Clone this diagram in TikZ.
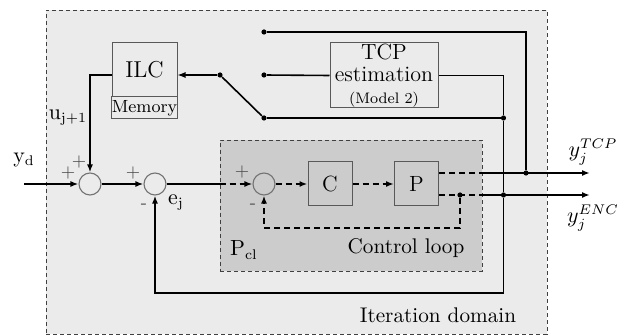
\documentclass[tikz,border=0pt]{standalone}
\usetikzlibrary{arrows.meta,calc}
\begin{document}
\begin{tikzpicture}[x=0.5pt,y=-0.5pt, font=\fontsize{10.6}{12}\selectfont,
  sig/.style={line width=0.8pt, -{Latex[length=4pt,width=3pt]}},
  ln/.style={line width=0.8pt},
  dsig/.style={sig, dash pattern=on 3pt off 2pt},
  dln/.style={ln, dash pattern=on 3pt off 2pt},
  block/.style={draw=black!65, line width=0.5pt, inner sep=0pt},
  sumc/.style={circle, draw=black!55, line width=0.55pt, minimum size=11pt, inner sep=0pt},
  dot/.style={circle, fill=black, inner sep=0pt, minimum size=2.6pt},
  sgn/.style={text=black!70, font=\fontsize{9}{10}\selectfont, inner sep=0pt},
  lbl/.style={inner sep=0pt}]
\useasboundingbox (0,0) rectangle (628,336);
% domains
\node[draw=black!75, fill=black!8, line width=0.45pt, dash pattern=on 2pt off 1.5pt,
  minimum width=250.5pt, minimum height=162pt, inner sep=0pt] (outer) at (296.5,172) {};
\node[draw=black!75, fill=black!20, line width=0.45pt, dash pattern=on 2pt off 1.5pt,
  minimum width=131pt, minimum height=65.5pt, inner sep=0pt] (inner) at (351,205.5) {};
% blocks
\node[block, minimum width=32.5pt, minimum height=27pt] (ilc) at (144.5,70) {\fontsize{11.5}{13}\selectfont ILC};
\node[block, minimum width=32.5pt, minimum height=11pt] (mem) at (144.5,108) {\fontsize{8.8}{10}\selectfont Memory};
\node[block, minimum width=54pt, minimum height=32.5pt, align=center] (tcp) at (384,75.5)
  {\fontsize{11}{11}\selectfont TCP\\[-1pt]\fontsize{11}{11}\selectfont estimation\\[-1pt]\fontsize{7.6}{9}\selectfont (Model 2)};
\node[block, minimum width=22pt, minimum height=22pt] (C) at (330,184) {\fontsize{11}{13}\selectfont C};
\node[block, minimum width=22pt, minimum height=22pt] (P) at (416.5,184) {\fontsize{11}{13}\selectfont P};
\node[sumc] (s1) at (90,184) {};
\node[sumc] (s2) at (155,184) {};
\node[sumc] (s3) at (264,184) {};
% switch and dots
\node[dot] (sw) at (220,75) {};
\node[dot] (d1) at (264,32) {};
\node[dot] (d2) at (264,75) {};
\node[dot] (d3) at (264,118) {};
\node[dot] (j1) at (526,173) {};
\node[dot] (j2) at (503.5,195) {};
\node[dot] (j3) at (503.5,118) {};
\node[dot] (j4) at (460,195) {};
\coordinate (ydin) at (24,184);
\coordinate (out1) at (590,173);
\coordinate (out2) at (590,195);
\coordinate (fb1) at (460,228);
\coordinate (fb2) at (503.5,293);
% connectors
\draw[sig] (ydin) -- (s1.west);
\draw[sig] (s1.east) -- (s2.west);
\draw[ln] (s2.east) -- (s2.east -| inner.west);
\draw[dsig] (s2.east -| inner.west) -- (s3.west);
\draw[dsig] (s3.east) -- (C.west);
\draw[dsig] (C.east) -- (P.west);
\draw[dln] (P.east |- j1) -- (inner.east |- j1);
\draw[sig] (inner.east |- j1) -- (out1);
\draw[dln] (P.east |- j2) -- (inner.east |- j2);
\draw[sig] (inner.east |- j2) -- (out2);
\draw[dsig] (j4) -- (fb1) -| (s3.south);
\draw[sig] (j2) -- (fb2) -| (s2.south);
\draw[sig, line width=0.6pt] (sw) -- (sw -| ilc.east);
\draw[sig] (sw -| ilc.west) -| (s1.north);
\draw[ln] (sw) -- (d3);
\draw[ln] (d1) -| (j1);
\draw[ln] (d2) -- (tcp.west);
\draw[ln] (tcp.east) -| (j3) -- (j2);
\draw[ln] (d3) -- (j3);
% labels
\node[lbl] at (24,160) {$\mathrm{y_d}$};
\node[lbl] at (68,118) {$\mathrm{u_{j+1}}$};
\node[lbl] at (176,203) {$\mathrm{e_j}$};
\node[lbl] at (244,250) {$\mathrm{P_{cl}}$};
\node[lbl] at (406,248) {Control loop};
\node[lbl] at (438,315) {Iteration domain};
\node[lbl] at (593,152) {$y_j^{TCP}$};
\node[lbl] at (593,218) {$y_j^{ENC}$};
\node[sgn] at (68,173) {+};
\node[sgn] at (79,162) {+};
\node[sgn] at (133,173) {+};
\node[sgn] at (144,206) {-};
\node[sgn] at (242,172) {+};
\node[sgn] at (253,206) {-};
\end{tikzpicture}
\end{document}
